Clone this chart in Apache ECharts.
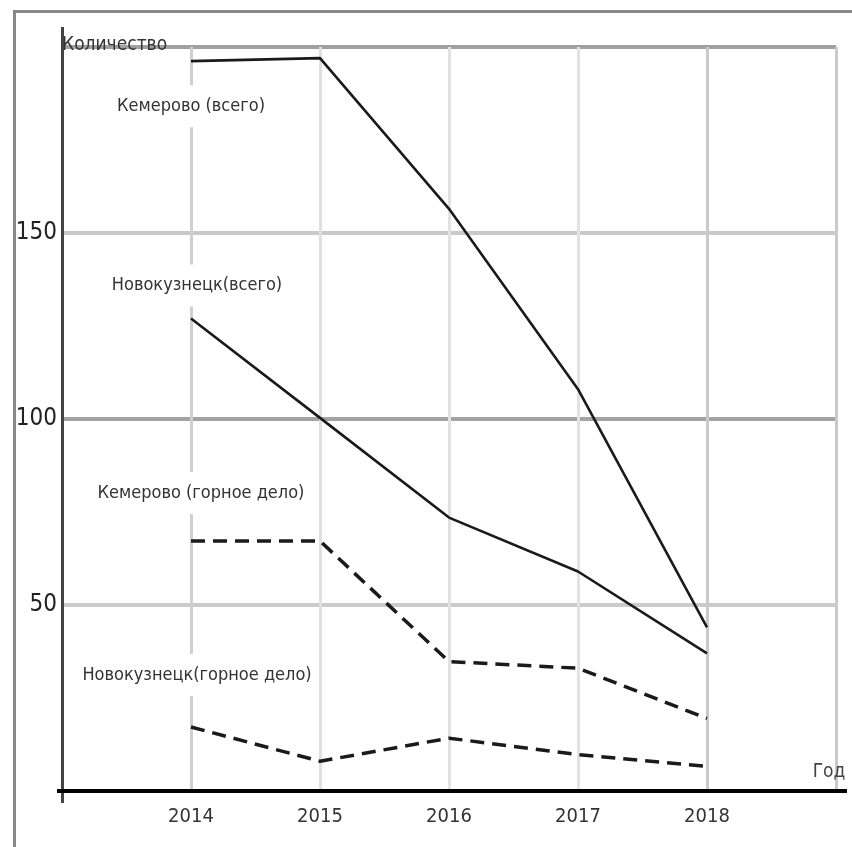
<!DOCTYPE html>
<html>
<head>
<meta charset="utf-8">
<script src="https://cdn.jsdelivr.net/npm/echarts@6/dist/echarts.min.js"></script>
<style>
html,body{margin:0;padding:0;background:#fff;}
#chart{width:852px;height:847px;}
</style>
</head>
<body>
<div id="chart"></div>
<script>
// ---- data ----
var years = [2014, 2015, 2016, 2017, 2018];
var kemTotal = [196.2, 197, 156.5, 108, 44];
var novTotal = [127, 100.3, 73.5, 59, 37];
var kemMining = [67.2, 67.2, 34.8, 33, 19.5];
var novMining = [17.2, 8, 14.2, 9.8, 6.6];
var seriesNames = ['Кемерово (всего)', 'Новокузнецк(всего)', 'Кемерово (горное дело)', 'Новокузнецк(горное дело)'];
var yTickLabels = [50, 100, 150];
var xTickLabels = [2014, 2015, 2016, 2017, 2018];
var yAxisName = 'Количество';
var xAxisName = 'Год';

var FONT = "'Liberation Sans Narrow', 'DejaVu Sans Condensed', sans-serif";

function mkSeries(name, vals, dashed, offset) {
  var data = years.map(function (y, i) {
    var item = { value: [y, vals[i]] };
    if (i === 0) {
      item.label = {
        show: true,
        position: 'inside',
        offset: offset,
        formatter: name,
        color: '#333',
        fontFamily: FONT,
        fontSize: 18,
        backgroundColor: '#fff',
        padding: [12, 3]
      };
    }
    return item;
  });
  return {
    type: 'line',
    name: name,
    data: data,
    showSymbol: true,
    symbol: 'circle',
    symbolSize: 0.1,
    itemStyle: { color: 'rgba(0,0,0,0)' },
    lineStyle: { color: '#1a1a1a', width: dashed ? 3.5 : 2.6, type: dashed ? [14, 8] : 'solid' },
    z: 3,
    label: { show: false },
    emphasis: { disabled: true }
  };
}

var chart = echarts.init(document.getElementById('chart'), null, { renderer: 'canvas' });
chart.setOption({
  animation: false,
  backgroundColor: '#fff',
  grid: { left: 62, right: 16, top: 47, bottom: 56, containLabel: false },
  xAxis: {
    type: 'value',
    min: 2013, max: 2019, interval: 1,
    name: xAxisName,
    nameLocation: 'end',
    nameGap: -7,
    nameTextStyle: { fontFamily: FONT, fontSize: 19, color: '#444', align: 'center', verticalAlign: 'bottom', padding: [0, 0, 9, 0] },
    axisLine: { show: true, lineStyle: { color: '#000', width: 4 } },
    axisTick: { show: false },
    axisLabel: {
      margin: 16,
      fontFamily: FONT, fontSize: 20, color: '#333',
      formatter: function (v) { return xTickLabels.indexOf(v) >= 0 ? String(v) : ''; }
    },
    splitLine: { show: true, lineStyle: { width: 3, color: ['#d0d0d0', '#cfcfcf', '#e0e0e0', '#e2e2e2', '#e2e2e2', '#cacaca', '#cacaca'] } }
  },
  yAxis: {
    type: 'value',
    min: 0, max: 200, interval: 50,
    name: yAxisName,
    nameLocation: 'end',
    nameGap: 2,
    nameTextStyle: { fontFamily: FONT, fontSize: 19, color: '#333', align: 'left', verticalAlign: 'middle' },
    axisLine: { show: true, lineStyle: { color: '#444', width: 3 } },
    axisTick: { show: false },
    axisLabel: {
      margin: 5,
      fontFamily: FONT, fontSize: 24, color: '#222',
      formatter: function (v) { return yTickLabels.indexOf(v) >= 0 ? String(v) : ''; }
    },
    splitLine: { show: true, lineStyle: { width: 4, color: ['#d4d4d4', '#cbcbcb', '#a3a3a3', '#c9c9c9', '#a0a0a0'] } }
  },
  series: [
    mkSeries(seriesNames[0], kemTotal, false, [0, 45]),
    mkSeries(seriesNames[1], novTotal, false, [6, -33]),
    mkSeries(seriesNames[2], kemMining, true, [10, -48]),
    mkSeries(seriesNames[3], novMining, true, [6, -52])
  ],
  graphic: [
    // outer frame (left + top)
    { type: 'line', shape: { x1: 14.5, y1: 10, x2: 14.5, y2: 847 }, style: { stroke: '#888', lineWidth: 3 }, z: 10 },
    { type: 'line', shape: { x1: 13, y1: 11.5, x2: 852, y2: 11.5 }, style: { stroke: '#888', lineWidth: 3 }, z: 10 },
    // axis extensions
    { type: 'line', shape: { x1: 62.5, y1: 27, x2: 62.5, y2: 48 }, style: { stroke: '#444', lineWidth: 3 }, z: 10 },
    { type: 'line', shape: { x1: 62.5, y1: 790, x2: 62.5, y2: 803 }, style: { stroke: '#444', lineWidth: 3 }, z: 10 },
    { type: 'line', shape: { x1: 57, y1: 791, x2: 64, y2: 791 }, style: { stroke: '#000', lineWidth: 4 }, z: 10 },
    { type: 'line', shape: { x1: 834, y1: 791, x2: 847, y2: 791 }, style: { stroke: '#000', lineWidth: 4 }, z: 10 }
  ]
});
</script>
</body>
</html>
